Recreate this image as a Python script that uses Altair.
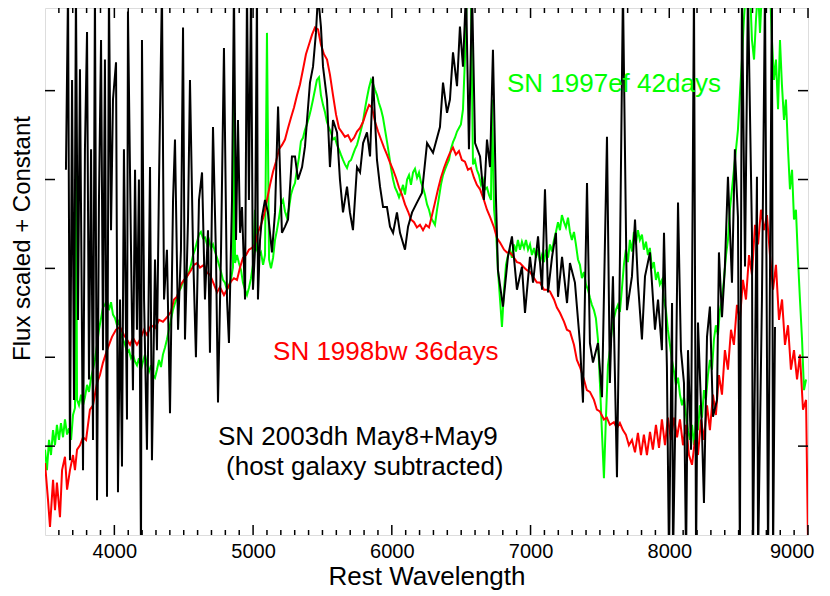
import altair as alt
import pandas as pd

FONT = "Liberation Sans"

# ---------------- data (rest wavelength in Angstrom, scaled flux + constant) ----------------
red_w = [3500, 3522, 3536, 3558, 3572, 3586, 3608, 3623, 3644, 3659, 3680, 3702, 3716, 3731, 3752, 3774,
         3796, 3824, 3846, 3875, 3896, 3918, 3947, 3983, 4012, 4041, 4069, 4091, 4113, 4134, 4163, 4185,
         4214, 4236, 4264, 4293, 4322, 4350, 4379, 4408, 4430, 4451, 4480, 4502, 4524, 4552, 4574, 4596,
         4617, 4646, 4668, 4689, 4718, 4740, 4761, 4790, 4811, 4840, 4862, 4884, 4906, 4927, 4949, 4970,
         4992, 5014, 5036, 5057, 5079, 5100, 5122, 5144, 5165, 5187, 5209, 5230, 5252, 5274, 5295, 5317,
         5338, 5360, 5381, 5403, 5425, 5446, 5468, 5489, 5511, 5533, 5554, 5576, 5598, 5619, 5641, 5662,
         5684, 5706, 5728, 5749, 5771, 5793, 5814, 5836, 5857, 5879, 5901, 5922, 5944, 5965, 5987, 6009,
         6030, 6052, 6073, 6095, 6117, 6138, 6160, 6181, 6203, 6225, 6246, 6268, 6290, 6311, 6333, 6354,
         6376, 6398, 6419, 6441, 6462, 6484, 6505, 6527, 6549, 6570, 6592, 6613, 6636, 6664, 6686, 6708,
         6737, 6758, 6780, 6809, 6830, 6852, 6881, 6902, 6924, 6953, 6974, 6996, 7025, 7046, 7068, 7097,
         7118, 7140, 7169, 7190, 7212, 7241, 7262, 7284, 7313, 7334, 7356, 7385, 7406, 7428, 7457, 7478,
         7500, 7529, 7550, 7572, 7601, 7622, 7644, 7666, 7687, 7709, 7731, 7753, 7774, 7796, 7817, 7839,
         7861, 7882, 7904, 7926, 7947, 7969, 7990, 8012, 8034, 8056, 8077, 8099, 8121, 8142, 8164, 8185,
         8207, 8229, 8250, 8272, 8293, 8315, 8336, 8358, 8380, 8401, 8423, 8445, 8466, 8488, 8509, 8531,
         8553, 8575, 8596, 8618, 8640, 8661, 8683, 8704, 8726, 8748, 8769, 8791, 8813, 8834, 8856, 8877,
         8899, 8921, 8942, 8964, 8986, 9000]
red_f = [0.81, 0.39, 0.09, 0.62, 0.28, 0.59, 0.20, 0.73, 0.88, 0.51, 0.73, 0.90, 0.73, 0.96, 1.01, 1.10,
         1.07, 1.41, 1.46, 1.71, 1.80, 1.94, 2.08, 2.23, 2.31, 2.34, 2.25, 2.20, 2.14, 2.22, 2.14, 2.20,
         2.31, 2.25, 2.36, 2.33, 2.42, 2.40, 2.45, 2.51, 2.65, 2.68, 2.82, 2.87, 2.91, 2.98, 3.04, 3.06,
         3.01, 3.04, 2.95, 2.93, 2.82, 2.73, 2.79, 2.70, 2.76, 2.85, 2.89, 2.87, 3.01, 3.12, 3.15, 3.21,
         3.23, 3.27, 3.41, 3.49, 3.60, 3.77, 3.94, 4.09, 4.20, 4.34, 4.39, 4.45, 4.58, 4.70, 4.81, 4.95,
         5.07, 5.24, 5.41, 5.52, 5.63, 5.71, 5.69, 5.52, 5.41, 5.35, 5.18, 4.95, 4.73, 4.58, 4.53, 4.48,
         4.50, 4.43, 4.47, 4.54, 4.58, 4.65, 4.75, 4.84, 4.81, 4.65, 4.54, 4.45, 4.36, 4.28, 4.19, 4.11,
         4.02, 3.91, 3.83, 3.72, 3.64, 3.55, 3.52, 3.46, 3.49, 3.43, 3.49, 3.46, 3.60, 3.74, 3.89, 4.02,
         4.13, 4.22, 4.30, 4.36, 4.28, 4.32, 4.22, 4.20, 4.11, 4.13, 4.02, 3.94, 3.89, 3.77, 3.66, 3.58,
         3.46, 3.34, 3.29, 3.21, 3.18, 3.18, 3.12, 3.07, 3.06, 3.01, 2.98, 2.96, 2.89, 2.84, 2.84, 2.76,
         2.76, 2.74, 2.65, 2.56, 2.50, 2.40, 2.31, 2.29, 2.14, 1.97, 1.89, 1.75, 1.63, 1.61, 1.52, 1.41,
         1.39, 1.30, 1.32, 1.24, 1.27, 1.20, 1.26, 1.18, 1.13, 1.01, 1.07, 0.93, 1.15, 0.90, 1.13, 0.90,
         1.16, 0.96, 1.24, 0.98, 1.30, 1.01, 1.32, 1.07, 1.32, 1.10, 1.30, 1.01, 1.24, 0.90, 0.79, 1.07,
         0.90, 1.30, 1.07, 1.46, 1.18, 1.58, 1.35, 1.80, 1.58, 2.08, 1.86, 2.31, 2.14, 2.59, 2.42, 2.87,
         2.65, 3.15, 2.93, 3.49, 3.27, 3.66, 3.43, 3.60, 3.15, 2.76, 3.04, 2.42, 2.65, 2.14, 2.36, 1.86,
         2.08, 1.75, 2.03, 1.41, 1.52, -0.10]

green_w = [3500, 3514, 3529, 3543, 3558, 3572, 3586, 3601, 3615, 3630, 3644, 3659, 3673, 3688, 3702, 3716,
           3724, 3731, 3745, 3760, 3774, 3788, 3803, 3817, 3832, 3846, 3860, 3875, 3889, 3904, 3918, 3932,
           3947, 3961, 3976, 3990, 4005, 4019, 4033, 4048, 4062, 4077, 4091, 4105, 4120, 4134, 4149, 4163,
           4177, 4192, 4206, 4221, 4236, 4250, 4264, 4278, 4293, 4307, 4322, 4336, 4350, 4365, 4379, 4393,
           4408, 4422, 4437, 4451, 4465, 4480, 4494, 4509, 4523, 4538, 4552, 4567, 4581, 4596, 4610, 4624,
           4639, 4653, 4668, 4682, 4697, 4711, 4725, 4740, 4754, 4769, 4783, 4797, 4812, 4826, 4840, 4855,
           4862, 4870, 4884, 4898, 4913, 4927, 4942, 4956, 4970, 4985, 4999, 5014, 5028, 5043, 5057, 5072,
           5086, 5100, 5115, 5129, 5144, 5158, 5172, 5187, 5201, 5216, 5230, 5244, 5259, 5273, 5288, 5302,
           5316, 5331, 5345, 5360, 5374, 5388, 5403, 5417, 5432, 5446, 5460, 5475, 5489, 5504, 5518, 5532,
           5547, 5561, 5576, 5590, 5605, 5619, 5633, 5648, 5662, 5677, 5691, 5706, 5720, 5734, 5749, 5763,
           5778, 5792, 5806, 5821, 5835, 5850, 5864, 5879, 5893, 5907, 5922, 5936, 5951, 5965, 5980, 5994,
           6009, 6023, 6038, 6052, 6066, 6081, 6095, 6110, 6124, 6138, 6153, 6167, 6182, 6196, 6210, 6225,
           6239, 6254, 6268, 6282, 6297, 6311, 6326, 6340, 6354, 6369, 6383, 6398, 6412, 6426, 6441, 6455,
           6470, 6484, 6498, 6513, 6527, 6542, 6556, 6570, 6585, 6599, 6613, 6628, 6643, 6657, 6672, 6686,
           6700, 6715, 6722, 6737, 6751, 6765, 6780, 6794, 6809, 6823, 6838, 6852, 6866, 6881, 6895, 6909,
           6924, 6938, 6953, 6967, 6982, 6996, 7010, 7025, 7039, 7053, 7068, 7082, 7097, 7111, 7126, 7140,
           7154, 7169, 7183, 7198, 7212, 7226, 7241, 7255, 7270, 7284, 7298, 7313, 7327, 7342, 7356, 7370,
           7385, 7399, 7414, 7428, 7442, 7457, 7471, 7486, 7500, 7514, 7529, 7543, 7558, 7572, 7586, 7601,
           7615, 7630, 7644, 7658, 7673, 7687, 7702, 7716, 7731, 7745, 7759, 7774, 7788, 7803, 7817, 7832,
           7846, 7860, 7875, 7889, 7904, 7918, 7932, 7947, 7961, 7976, 7990, 8005, 8019, 8034, 8048, 8063,
           8077, 8092, 8106, 8121, 8135, 8149, 8164, 8178, 8193, 8207, 8221, 8236, 8250, 8264, 8279, 8293,
           8308, 8322, 8336, 8351, 8365, 8380, 8394, 8409, 8423, 8437, 8452, 8466, 8481, 8495, 8509, 8524,
           8538, 8553, 8567, 8582, 8596, 8611, 8625, 8640, 8654, 8668, 8683, 8697, 8712, 8726, 8740, 8755,
           8769, 8784, 8798, 8812, 8827, 8841, 8856, 8870, 8885, 8899, 8913, 8928, 8942, 8957, 8971, 8986]
green_f = [0.96, 0.73, 1.07, 0.90, 1.18, 1.01, 1.24, 1.07, 1.26, 1.10, 1.30, 1.13, 1.20, 1.07, 1.35, 1.43,
           4.56, 1.52, 1.46, 1.58, 1.46, 1.55, 1.69, 1.61, 1.77, 1.86, 1.97, 2.14, 2.31, 2.44, 2.56, 2.59,
           2.65, 2.53, 2.62, 2.48, 2.44, 2.36, 2.42, 2.25, 2.20, 2.14, 2.06, 2.08, 1.99, 2.03, 1.95, 1.91,
           1.99, 1.86, 1.95, 2.03, 1.91, 1.84, 1.91, 1.80, 1.77, 1.86, 1.97, 1.89, 2.03, 2.11, 2.20, 2.31,
           2.42, 2.53, 2.61, 2.67, 2.74, 2.78, 2.85, 2.87, 2.91, 2.96, 3.04, 3.15, 3.21, 3.30, 3.38, 3.41,
           3.34, 3.35, 3.27, 3.32, 3.23, 3.27, 3.19, 3.12, 3.04, 2.96, 2.87, 2.84, 2.76, 2.81, 2.87, 3.01,
           5.35, 3.06, 3.15, 3.06, 2.98, 2.84, 2.76, 2.70, 2.78, 2.89, 3.04, 3.66, 3.21, 3.14, 3.18, 3.04,
           3.15, 5.65, 3.10, 3.00, 3.12, 3.32, 3.43, 3.57, 3.72, 3.77, 3.64, 3.57, 3.68, 3.83, 3.91, 3.96,
           4.11, 4.25, 4.43, 4.47, 4.56, 4.62, 4.70, 4.79, 4.90, 5.01, 5.12, 5.15, 4.95, 4.84, 4.76, 4.65,
           4.58, 4.53, 4.45, 4.47, 4.39, 4.34, 4.28, 4.22, 4.17, 4.13, 4.20, 4.22, 4.28, 4.34, 4.39, 4.47,
           4.56, 4.65, 4.79, 4.92, 5.03, 5.12, 5.08, 5.01, 4.95, 4.86, 4.79, 4.70, 4.56, 4.43, 4.28, 4.13,
           4.00, 3.91, 3.86, 3.80, 3.86, 3.94, 3.83, 4.00, 4.05, 3.94, 4.08, 4.12, 4.02, 4.08, 3.97, 3.91,
           3.83, 3.72, 3.66, 3.57, 3.53, 3.49, 3.66, 3.80, 3.94, 4.05, 4.11, 4.17, 4.22, 4.34, 4.42, 4.47,
           4.54, 4.58, 4.62, 4.79, 5.35, 6.14, 6.14, 6.14, 4.17, 4.22, 4.11, 4.05, 3.94, 4.00, 3.89, 3.91,
           3.83, 3.77, 4.90, 3.66, 3.43, 2.98, 2.65, 2.34, 2.76, 3.04, 3.15, 3.21, 3.12, 3.27, 3.19, 3.32,
           3.21, 3.30, 3.23, 3.32, 3.21, 3.27, 3.15, 3.23, 3.12, 3.21, 3.07, 3.15, 3.07, 3.21, 3.12, 3.27,
           3.19, 3.32, 3.41, 3.52, 3.43, 3.60, 3.52, 3.46, 3.57, 3.41, 3.32, 3.41, 3.27, 3.10, 3.04, 2.89,
           2.96, 2.82, 2.76, 2.67, 2.59, 2.53, 2.44, 2.20, 1.71, 1.18, 0.64, 1.30, 1.91, 2.08, 2.31, 2.44,
           2.53, 2.59, 2.51, 2.76, 3.04, 3.21, 3.07, 3.32, 3.19, 3.41, 3.27, 3.43, 3.32, 3.38, 3.21, 3.30,
           3.15, 3.23, 3.00, 3.07, 2.87, 2.96, 2.82, 2.87, 2.65, 2.53, 2.31, 2.14, 1.97, 1.84, 1.69, 1.77,
           1.58, 1.46, 1.55, 1.35, 1.18, 1.07, 1.24, 1.01, 1.30, 1.18, 1.46, 1.32, 1.63, 1.52, 1.80, 1.97,
           1.86, 2.20, 2.36, 2.25, 2.53, 2.65, 2.87, 3.15, 3.32, 3.66, 3.89, 4.11, 4.34, 4.56, 4.95, 5.35,
           5.80, 6.14, 5.91, 6.14, 5.57, 5.35, 5.80, 6.14, 5.65, 6.14, 6.14, 5.91, 6.14, 6.14, 5.57, 5.12,
           5.35, 4.79, 5.57, 5.07, 4.67, 4.90, 4.34, 3.89, 4.11, 3.55, 3.66, 3.10, 2.65, 2.20, 1.63, 1.75]

black_w = [3651, 3666, 3680, 3695, 3709, 3723, 3738, 3752, 3774, 3788, 3803, 3817, 3832, 3846, 3860, 3875,
           3889, 3904, 3918, 3932, 3947, 3961, 3976, 3990, 4012, 4026, 4041, 4055, 4069, 4091, 4098, 4120,
           4134, 4149, 4163, 4177, 4192, 4199, 4214, 4235, 4257, 4271, 4293, 4307, 4322, 4343, 4358, 4379,
           4401, 4423, 4437, 4459, 4480, 4495, 4509, 4531, 4545, 4567, 4588, 4610, 4632, 4653, 4675, 4689,
           4711, 4733, 4747, 4769, 4790, 4812, 4826, 4848, 4862, 4877, 4891, 4906, 4920, 4942, 4956, 4970,
           4985, 4999, 5014, 5028, 5035, 5050, 5064, 5086, 5107, 5136, 5158, 5180, 5208, 5230, 5252, 5280,
           5302, 5324, 5353, 5374, 5410, 5432, 5453, 5468, 5489, 5504, 5533, 5554, 5576, 5605, 5626, 5648,
           5677, 5698, 5720, 5749, 5771, 5793, 5821, 5843, 5864, 5893, 5915, 5937, 5965, 5987, 6009, 6037,
           6059, 6095, 6117, 6146, 6181, 6217, 6254, 6297, 6347, 6369, 6398, 6419, 6441, 6470, 6491, 6513,
           6535, 6556, 6578, 6600, 6636, 6664, 6686, 6708, 6729, 6751, 6765, 6801, 6837, 6866, 6902, 6938,
           6960, 6996, 7018, 7054, 7083, 7104, 7126, 7155, 7183, 7198, 7227, 7263, 7284, 7320, 7356, 7378,
           7407, 7428, 7450, 7486, 7515, 7551, 7572, 7594, 7623, 7644, 7666, 7695, 7731, 7753, 7774, 7803,
           7825, 7861, 7897, 7919, 7947, 7962, 7983, 7998, 8020, 8027, 8048, 8063, 8084, 8106, 8121, 8135,
           8157, 8178, 8193, 8207, 8236, 8250, 8272, 8293, 8315, 8344, 8358, 8380, 8401, 8423, 8452, 8473,
           8495, 8509, 8524, 8546, 8567, 8596, 8603, 8632, 8640, 8668, 8690, 8712, 8740, 8748, 8762]
black_f = [4.11, 6.14, 0.84, 5.12, 1.52, 6.14, 2.42, 5.24, 0.73, 4.34, 5.66, 1.75, 4.34, 1.07, 6.14, 0.39,
           3.77, 5.57, 2.08, 5.35, 0.43, 6.14, 3.43, 4.90, 5.32, 0.48, 2.65, 0.77, 4.34, 1.30, 5.89, 3.21,
           1.63, 4.11, 2.31, 4.00, -0.28, 5.57, 2.65, 0.96, 4.14, 0.84, 3.10, 2.08, 4.00, 6.14, 2.65, 3.21,
           1.37, 3.77, 4.45, 2.31, 3.21, 5.71, 2.20, 3.55, 5.12, 3.21, 2.00, 3.77, 4.08, 2.65, 3.43, 2.05,
           4.59, 3.10, 1.49, 3.21, 5.48, 2.65, 2.16, 3.77, 6.14, 3.32, 4.67, 3.40, 3.69, 2.65, 6.14, 3.77,
           6.14, 2.76, 3.21, 6.14, 2.65, 3.32, 3.58, 3.77, 3.63, 3.18, 3.63, 4.82, 3.40, 3.47, 3.55, 4.26,
           4.26, 4.00, 4.14, 4.37, 5.09, 5.27, 5.65, 6.08, 5.72, 5.27, 4.90, 4.14, 4.67, 4.53, 4.00, 3.63,
           3.92, 3.63, 3.43, 4.14, 4.08, 4.41, 4.53, 4.26, 5.16, 4.22, 3.92, 3.69, 3.69, 3.47, 3.40, 3.63,
           3.40, 3.21, 3.47, 3.63, 3.74, 3.85, 4.41, 4.30, 4.59, 5.09, 4.75, 4.90, 5.43, 5.05, 5.72, 5.27,
           6.14, 4.34, 6.14, 4.41, 4.26, 3.77, 4.45, 4.14, 5.46, 3.77, 2.98, 2.57, 3.13, 3.36, 2.76, 3.02,
           2.50, 3.13, 2.84, 3.36, 2.76, 3.89, 2.73, 3.13, 3.40, 2.68, 3.13, 2.61, 3.06, 2.84, 2.16, 1.49,
           3.96, 2.16, 1.94, 2.16, 1.55, 4.48, 1.71, 2.91, 0.65, 3.06, 6.14, 2.53, 2.91, 3.55, 2.84, 2.20,
           2.91, 3.18, 2.31, 2.65, 2.08, 3.40, 1.89, -0.28, 2.61, -0.28, 1.71, 3.74, 2.08, 1.71, -0.28, 2.08,
           0.96, 6.14, -0.28, 2.39, 1.15, 0.36, 2.23, 2.57, 1.33, 1.52, 3.18, 2.45, 3.02, 4.03, 2.84, 4.34,
           3.58, -0.28, 6.14, 3.02, 6.14, 3.40, -0.28, 4.03, -0.28, 2.65, 6.14, -0.28, 6.14, -0.28, 2.34]

x_major = [4000, 5000, 6000, 7000, 8000, 9000]
x_minor = [v for v in range(3600, 9000, 100) if v % 1000 != 0]
y_ticks = [1, 2, 3, 4, 5]

ann_text = ["SN 1997ef 42days", "SN 1998bw 36days", "SN 2003dh May8+May9", "(host galaxy subtracted)"]
ann_w = [6830, 5144, 4747, 4805]
ann_f = [5.07, 2.06, 1.10, 0.77]
ann_color = ["#00ff00", "#ff0000", "#000000", "#000000"]


def spectrum(w, f):
    return pd.DataFrame({"w": w, "f": f, "i": list(range(len(w)))})


W, H = 763, 527
xs = alt.Scale(domain=[3500, 9000], nice=False, zero=False)
ys = alt.Scale(domain=[0, 5.93], nice=False, zero=False)

xaxis = alt.Axis(values=x_major, ticks=False, domain=False, grid=False, format="d",
                 labelFlush=True, labelFlushOffset=6,
                 labelFont=FONT, labelFontSize=20, labelColor="black", labelPadding=6,
                 title="Rest Wavelength", titleFont=FONT, titleFontSize=26, titleFontWeight="normal",
                 titleColor="black", titlePadding=2)
yaxis = alt.Axis(labels=False, ticks=False, domain=False, grid=False,
                 title="Flux scaled + Constant", titleFont=FONT, titleFontSize=24,
                 titleFontWeight="normal", titleColor="black",
                 titleX=-16, titleY=230, titleBaseline="alphabetic", titleAlign="center", titleAngle=270)

X = lambda field: alt.X(field, type="quantitative", scale=xs, axis=xaxis)
Y = lambda field: alt.Y(field, type="quantitative", scale=ys, axis=yaxis)


def line(df, color):
    return alt.Chart(df).mark_line(color=color, strokeWidth=2, clip=True, strokeJoin="miter").encode(
        x=X("w"), y=Y("f"), order="i:Q")


layers = [
    line(spectrum(green_w, green_f), "#00ff00"),
    line(spectrum(red_w, red_f), "#ff0000"),
    line(spectrum(black_w, black_f), "#000000"),
]

maj = pd.DataFrame({"t": x_major})
mnr = pd.DataFrame({"t": x_minor})
ytk = pd.DataFrame({"t": y_ticks})
for df, ln in ((maj, 10), (mnr, 5)):
    layers.append(alt.Chart(df).mark_rule(color="black", strokeWidth=1.5).encode(
        x=X("t"), y=alt.value(H), y2=alt.value(H - ln)))
    layers.append(alt.Chart(df).mark_rule(color="black", strokeWidth=1.5).encode(
        x=X("t"), y=alt.value(0), y2=alt.value(ln)))
layers.append(alt.Chart(ytk).mark_rule(color="black", strokeWidth=1.5).encode(
    y=Y("t"), x=alt.value(0), x2=alt.value(10)))
layers.append(alt.Chart(ytk).mark_rule(color="black", strokeWidth=1.5).encode(
    y=Y("t"), x=alt.value(W), x2=alt.value(W - 10)))

ann = pd.DataFrame({"text": ann_text, "w": ann_w, "f": ann_f, "c": ann_color})
layers.append(alt.Chart(ann).mark_text(align="left", baseline="middle", font=FONT, fontSize=26).encode(
    x=X("w"), y=Y("f"), text="text:N", color=alt.Color("c:N", scale=None)))

chart = alt.layer(*layers).properties(
    width=W, height=H,
    autosize=alt.AutoSizeParams(type="none"),
    padding={"left": 37, "top": 0, "right": 14, "bottom": 58},
).configure_view(stroke="black", strokeWidth=2).configure(background="white")

chart.save("out.html", embed_options={"renderer": "svg", "actions": False})
